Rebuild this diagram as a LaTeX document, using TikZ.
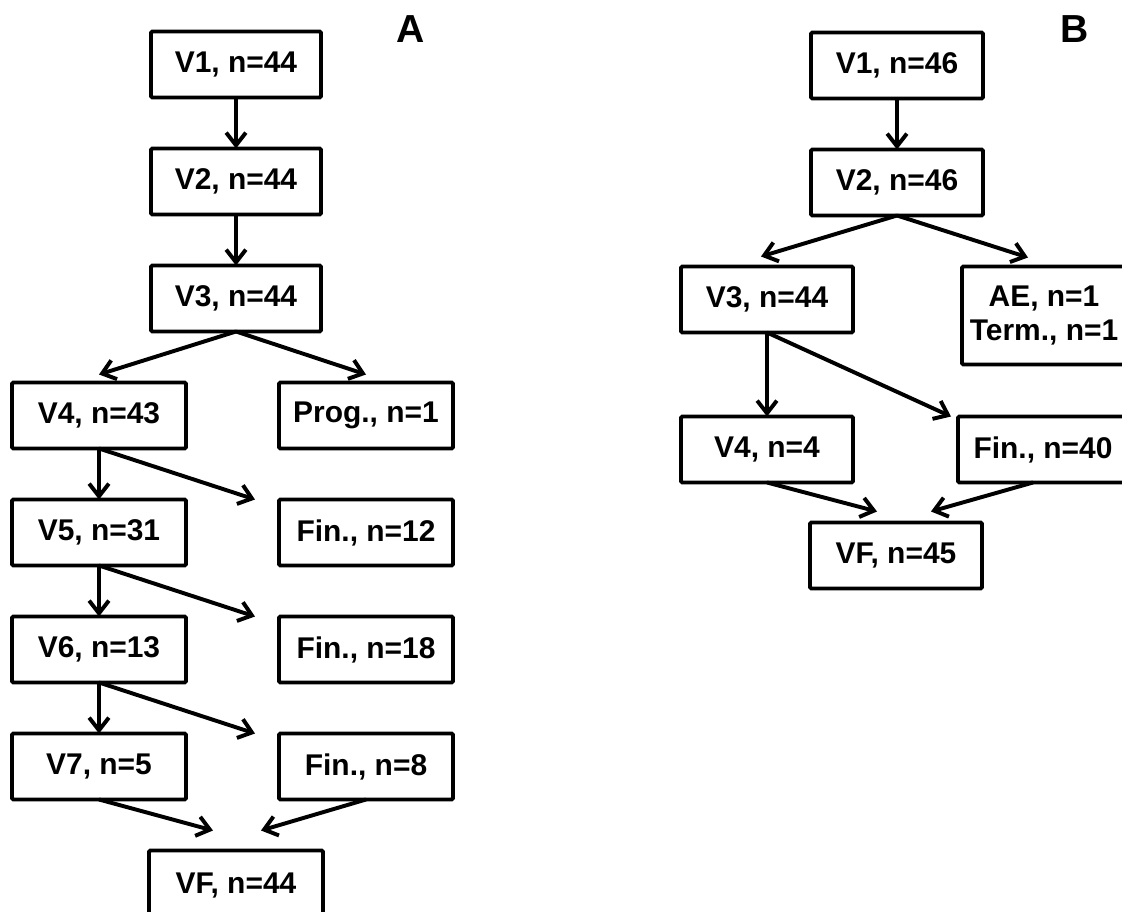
\documentclass[tikz,border=0pt]{standalone}
\usepackage{fontspec}
\setmainfont{Liberation Sans}
\usetikzlibrary{positioning,arrows.meta}

\begin{document}
\begin{tikzpicture}[
  >={Straight Barb[length=9pt,width=14pt]},
  line width=2.8pt,
  box/.style={rectangle, draw=black, rounded corners=1pt, minimum width=4.35cm, minimum height=1.65cm, align=center, inner sep=2pt, outer sep=0pt, font=\bfseries\fontsize{21.3pt}{24.5pt}\selectfont},
  panel/.style={font=\bfseries\fontsize{27.8pt}{30pt}\selectfont},
  node distance=1.275cm and 2.325cm
]
\useasboundingbox (0,0) rectangle (28.05,-22.8);
\clip (0,0) rectangle (28.05,-22.8);

\node[box, minimum width=4.25cm](v1a) at (5.9,-1.6125) {V1, n=44};
\node[box, minimum width=4.25cm, below=of v1a](v2a) {V2, n=44};
\node[box, minimum width=4.25cm, below=of v2a](v3a) {V3, n=44};
\node[box, below=of v3a, xshift=-3.425cm](v4a) {V4, n=43};
\node[box, right=of v4a](proga) {Prog., n=1};
\node[box, below=of v4a](v5a) {V5, n=31};
\node[box, right=of v5a](fin12a) {Fin., n=12};
\node[box, below=of v5a](v6a) {V6, n=13};
\node[box, right=of v6a](fin18a) {Fin., n=18};
\node[box, below=of v6a](v7a) {V7, n=5};
\node[box, right=of v7a](fin8a) {Fin., n=8};
\node[box, minimum height=1.75cm, below=of v7a, xshift=3.425cm](vfa) {VF, n=44};
\node[panel](labela) at (10.275,-0.725) {A};
\path[->] (v1a) edge (v2a);
\path[->] (v2a) edge (v3a);
\path[->] (v3a.south) edge ([yshift=0.2cm]v4a.north);
\path[->] (v3a.south) edge ([yshift=0.2cm]proga.north);
\path[->] (v4a) edge (v5a);
\path[->] (v4a.south) edge ([xshift=-0.6cm]fin12a.north west);
\path[->] (v5a) edge (v6a);
\path[->] (v5a.south) edge ([xshift=-0.6cm]fin18a.north west);
\path[->] (v6a) edge (v7a);
\path[->] (v6a.south) edge ([xshift=-0.6cm]fin8a.north west);
\path[->] (v7a.south) edge ([xshift=1.6cm, yshift=0.5cm]vfa.north west);
\path[->] (fin8a.south) edge ([xshift=-1.55cm, yshift=0.5cm]vfa.north east);

\node[box, minimum width=4.3cm](v1b) at (22.425,-1.6375) {V1, n=46};
\node[box, minimum width=4.3cm, below=of v1b](v2b) {V2, n=46};
\node[box, minimum width=4.3cm, below=of v2b, xshift=-3.25cm](v3b) {V3, n=44};
\node[box, minimum width=4.1cm, minimum height=2.45cm, below right=0cm and 2.725cm of v3b.north east](aeb) {AE, n=1\\Term., n=1};
\node[box, minimum width=4.3cm, below=2.1cm of v3b](v4b) {V4, n=4};
\node[box, minimum width=4.25cm, right=2.625cm of v4b](fin40b) {Fin., n=40};
\node[box, minimum width=4.3cm, below=1cm of v4b, xshift=3.225cm](vfb) {VF, n=45};
\node[panel](labelb) at (26.875,-0.725) {B};
\path[->] (v1b) edge (v2b);
\path[->] (v2b.south) edge ([xshift=-0.15cm, yshift=0.25cm]v3b.north);
\path[->] (v2b.south) edge ([xshift=1.65cm, yshift=0.225cm]aeb.north west);
\path[->] (v3b) edge (v4b);
\path[->] (v3b.south) edge ([xshift=-0.175cm]fin40b.north west);
\path[->] (v4b.south) edge ([xshift=1.675cm, yshift=0.275cm]vfb.north west);
\path[->] ([xshift=-0.25cm]fin40b.south) edge ([xshift=-1.275cm, yshift=0.275cm]vfb.north east);
\end{tikzpicture}
\end{document}
